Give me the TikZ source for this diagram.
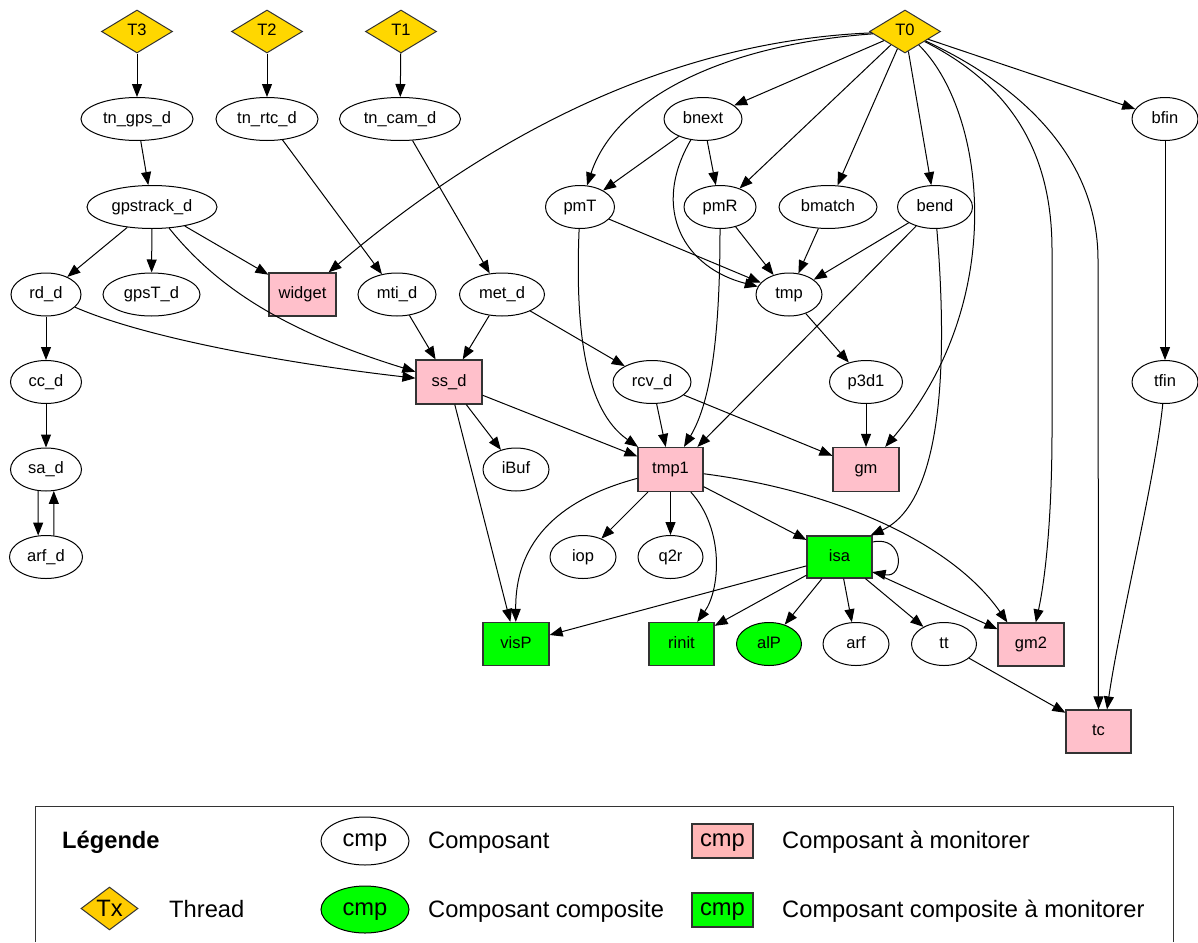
\documentclass[tikz,border=0pt]{standalone}
\usepackage{fontspec}
\setmainfont{Liberation Sans}
\usetikzlibrary{shapes.geometric,arrows.meta,calc}
\definecolor{tgold}{HTML}{FFD700}
\definecolor{lgold}{HTML}{FFCC00}
\definecolor{cpink}{HTML}{FFC0CB}
\definecolor{lpink}{HTML}{FFB6B6}
\definecolor{cgreen}{HTML}{00FF00}
\newcommand\legfont{\fontsize{23.7}{28}\selectfont}
\begin{document}
\begin{tikzpicture}[x=1pt,y=-1pt,
  every node/.style={font=\fontsize{16.5}{19}\selectfont, inner sep=0pt, text height=11.5pt, text depth=3.5pt},
  cmpnode/.style={ellipse, draw=black, line width=1pt, minimum height=43pt},
  monbox/.style={rectangle, draw=black!80, line width=1.2pt, fill=cpink, minimum width=66pt, minimum height=44pt},
  compbox/.style={rectangle, draw=black!80, line width=1.2pt, fill=cgreen, minimum width=66pt, minimum height=43pt},
  thread/.style={diamond, draw=black!80, line width=1pt, fill=tgold, minimum width=71pt, minimum height=43pt, aspect=1.65},
  conn/.style={draw=black, line width=1pt, -{Triangle[length=13pt,width=10pt]}},
  legtext/.style={anchor=base west, font=\legfont},
]
\useasboundingbox (0,0) rectangle (1198,942);

% threads
\node[thread] (T3) at (137,31.5) {T3};
\node[thread] (T2) at (267,31.5) {T2};
\node[thread] (T1) at (401,31.5) {T1};
\node[thread] (T0) at (905,31.5) {T0};

% row 1
\node[cmpnode, minimum width=112pt] (tn_gps_d) at (137,119) {tn\_gps\_d};
\node[cmpnode, minimum width=102pt] (tn_rtc_d) at (267,119) {tn\_rtc\_d};
\node[cmpnode, minimum width=121pt] (tn_cam_d) at (400,119) {tn\_cam\_d};
\node[cmpnode, minimum width=78pt] (bnext) at (703,119) {bnext};
\node[cmpnode, minimum width=66pt] (bfin) at (1165,119) {bfin};

% row 2
\node[cmpnode, minimum width=130pt] (gpstrack_d) at (152,207) {gpstrack\_d};
\node[cmpnode, minimum width=69pt] (pmT) at (580,207) {pmT};
\node[cmpnode, minimum width=72pt] (pmR) at (720,207) {pmR};
\node[cmpnode, minimum width=98pt] (bmatch) at (828,207) {bmatch};
\node[cmpnode, minimum width=75pt] (bend) at (935,207) {bend};

% row 3
\node[cmpnode, minimum width=70pt] (rd_d) at (46,294.5) {rd\_d};
\node[cmpnode, minimum width=97pt] (gpsT_d) at (151.5,294.5) {gpsT\_d};
\node[monbox, minimum width=67pt, minimum height=43pt] (widget) at (302.5,294.5) {widget};
\node[cmpnode, minimum width=78pt] (mti_d) at (397,294.5) {mti\_d};
\node[cmpnode, minimum width=85pt] (met_d) at (502,294.5) {met\_d};
\node[cmpnode, minimum width=66pt] (tmp) at (789,294.5) {tmp};

% row 4
\node[cmpnode, minimum width=71pt] (cc_d) at (46,382) {cc\_d};
\node[monbox] (ss_d) at (449,382) {ss\_d};
\node[cmpnode, minimum width=78pt] (rcv_d) at (652,382) {rcv\_d};
\node[cmpnode, minimum width=73pt] (p3d1) at (866,382) {p3d1};
\node[cmpnode, minimum width=66pt] (tfin) at (1165,382) {tfin};

% row 5
\node[cmpnode, minimum width=71pt] (sa_d) at (46,469.5) {sa\_d};
\node[cmpnode, minimum width=66pt] (iBuf) at (516,469.5) {iBuf};
\node[monbox, minimum width=65pt] (tmp1) at (670.5,469.5) {tmp1};
\node[monbox] (gm) at (866,469.5) {gm};

% row 6
\node[cmpnode, minimum width=73pt] (arf_d) at (46,557) {arf\_d};
\node[cmpnode, minimum width=66pt] (iop) at (583,557) {iop};
\node[cmpnode, minimum width=65pt] (q2r) at (670.5,557) {q2r};
\node[compbox, minimum width=65pt, minimum height=42pt] (isa) at (839.5,557) {isa};

% row 7
\node[compbox] (visP) at (516,644) {visP};
\node[compbox, minimum width=65pt] (rinit) at (681.5,644) {rinit};
\node[cmpnode, fill=cgreen, minimum width=65pt] (alP) at (769,644) {alP};
\node[cmpnode, minimum width=66pt] (arf) at (856,644) {arf};
\node[cmpnode, minimum width=65pt] (tt) at (944,644) {tt};
\node[monbox, minimum height=43pt] (gm2) at (1031,644.5) {gm2};

% row 8
\node[monbox, minimum width=65pt, minimum height=43pt] (tc) at (1098.5,731.5) {tc};

% edges: threads
\draw[conn] (T3) -- (tn_gps_d);
\draw[conn] (T2) -- (tn_rtc_d);
\draw[conn] (T1) -- (tn_cam_d);
\draw[conn] (tn_gps_d) -- (gpstrack_d);
\draw[conn] (tn_rtc_d) -- (mti_d);
\draw[conn] (tn_cam_d) -- (met_d);
\draw[conn] (gpstrack_d) -- (rd_d);
\draw[conn] (gpstrack_d) -- (gpsT_d);
\draw[conn] (gpstrack_d) -- (widget);
\draw[conn] (gpstrack_d) .. controls (215,285) and (280,330) .. (ss_d);
\draw[conn] (T0) .. controls (700,40) and (520,110) .. (widget);
\draw[conn] (rd_d) -- (cc_d);
\draw[conn] (rd_d) .. controls (150,340) and (300,365) .. (ss_d);
\draw[conn] (cc_d) -- (sa_d);
\draw[conn] (sa_d.-110) -- (arf_d.110);
\draw[conn] (arf_d.70) -- (sa_d.-70);
\draw[conn] (mti_d) -- (ss_d);
\draw[conn] (met_d) -- (ss_d);
\draw[conn] (met_d) -- (rcv_d);
\draw[conn] (ss_d) -- (iBuf);
\draw[conn] (ss_d) -- (tmp1);
\draw[conn] (ss_d) -- (visP);

% T0
\draw[conn] (T0) -- (bnext);
\draw[conn] (T0) .. controls (720,45) and (615,100) .. (pmT);
\draw[conn] (T0) -- (pmR);
\draw[conn] (T0) -- (bmatch);
\draw[conn] (T0) -- (bend);
\draw[conn] (T0) -- (bfin);
\draw[conn] (T0) .. controls (985,110) and (1010,300) .. (gm);
\draw[conn] (T0) .. controls (1000,80) and (1052,140) .. (1052,250) -- (1052,430) .. controls (1052,520) and (1045,580) .. (gm2);
\draw[conn] (T0) .. controls (1010,80) and (1098,150) .. (1098,260) -- (tc);

% b*, pm*
\draw[conn] (bnext) -- (pmT);
\draw[conn] (bnext) -- (pmR);
\draw[conn] (bnext) .. controls (650,210) and (685,268) .. (tmp);
\draw[conn] (pmT) -- (tmp);
\draw[conn] (pmT) .. controls (575,330) and (585,410) .. (tmp1);
\draw[conn] (pmR) -- (tmp);
\draw[conn] (pmR) .. controls (720,330) and (712,400) .. (tmp1);
\draw[conn] (bmatch) -- (tmp);
\draw[conn] (bend) -- (tmp);
\draw[conn] (bend) -- (tmp1.40);
\draw[conn] (bend) .. controls (946,340) and (948,500) .. ($(isa.north east)+(-2,0)$);
\draw[conn] (tmp) -- (p3d1);
\draw[conn] (p3d1) -- (gm);
\draw[conn] (rcv_d) -- (tmp1);
\draw[conn] (rcv_d) -- (gm);
\draw[conn] (bfin) -- (tfin);
\draw[conn] (tfin) .. controls (1155,480) and (1120,620) .. ($(tc.north)+(8.5,0)$);
\draw[conn] (tt) -- (tc);

% tmp1
\draw[conn] (tmp1) -- (iop);
\draw[conn] (tmp1) -- (q2r);
\draw[conn] (tmp1) -- (isa);
\draw[conn] (tmp1) .. controls (575,495) and (515,530) .. (visP);
\draw[conn] (tmp1) .. controls (725,530) and (720,590) .. (rinit);
\draw[conn] (tmp1) .. controls (830,490) and (950,540) .. ($(gm2.north west)+(10,0)$);

% isa
\draw[conn] ($(isa.east)+(0,-15)$) .. controls ($(isa.east)+(32,-22)$) and ($(isa.east)+(32,22)$) .. ($(isa.east)+(0,15)$);
\draw[conn] (isa) -- (visP);
\draw[conn] (isa) -- (rinit);
\draw[conn] (isa) -- (alP);
\draw[conn] (isa) -- (arf);
\draw[conn] (isa) -- (tt);
\draw[conn] (isa) -- (gm2);

% legend
\draw[line width=1pt, draw=black!80] (35,942) -- (35,806) -- (1173,806) -- (1173,942);
\node[legtext, font=\legfont\bfseries] (lgtitle) at (62,848) {Légende};
\node[cmpnode, minimum width=88pt, minimum height=48pt, font=\legfont, text height=16.5pt, text depth=5pt] (lgcmp) at (365,841) {cmp};
\node[legtext] (lgcmpt) at (428,848) {Composant};
\node[rectangle, draw=black!80, line width=1.2pt, fill=lpink, minimum width=61pt, minimum height=34pt, font=\legfont, text height=16.5pt, text depth=5pt] (lgmon) at (722.5,841) {cmp};
\node[legtext] (lgmont) at (782,848) {Composant à monitorer};
\node[thread, fill=lgold, minimum width=57pt, minimum height=43pt, aspect=1.33, font=\legfont, text height=16.5pt, text depth=0pt] (lgthr) at (109.5,908.5) {Tx};
\node[legtext] (lgthrt) at (169,917) {Thread};
\node[cmpnode, fill=cgreen, minimum width=88pt, minimum height=47pt, font=\legfont, text height=16.5pt, text depth=5pt] (lgcomp) at (365,909.5) {cmp};
\node[legtext] (lgcompt) at (428,917) {Composant composite};
\node[rectangle, draw=black!80, line width=1.2pt, fill=cgreen, minimum width=61pt, minimum height=34pt, font=\legfont, text height=16.5pt, text depth=5pt] (lgcmon) at (722.5,910) {cmp};
\node[legtext] (lgcmont) at (782,917) {Composant composite à monitorer};
\end{tikzpicture}
\end{document}
